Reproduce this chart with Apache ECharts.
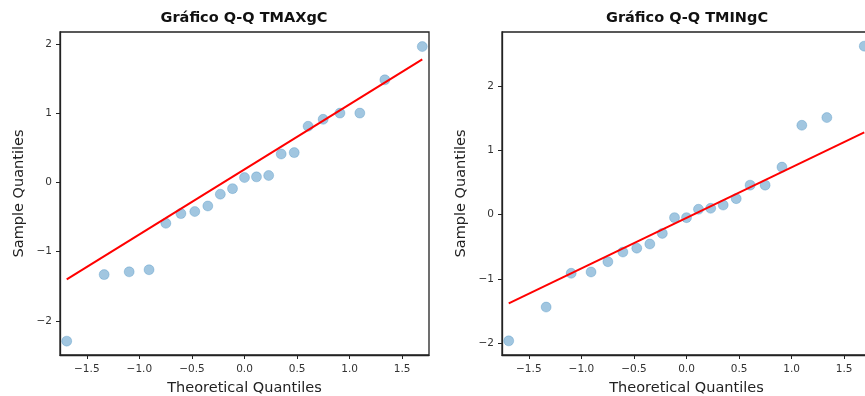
<!DOCTYPE html>
<html>
<head>
<meta charset="utf-8">
<script src="https://cdn.jsdelivr.net/npm/echarts@6/dist/echarts.min.js"></script>
<style>
  html, body { margin: 0; padding: 0; background: #fff; }
  #main { width: 865px; height: 396px; }
</style>
</head>
<body>
<div id="main"></div>
<script>
// theoretical quantiles (shared by both plots)
var theo = [-1.691, -1.335, -1.097, -0.908, -0.748, -0.605, -0.473, -0.349, -0.230, -0.114, 0,
            0.114, 0.230, 0.349, 0.473, 0.605, 0.748, 0.908, 1.097, 1.335, 1.691];
// sample quantiles
var tmax = [-2.29, -1.33, -1.29, -1.26, -0.59, -0.45, -0.42, -0.34, -0.17, -0.09, 0.07,
            0.08, 0.10, 0.41, 0.43, 0.81, 0.91, 1.00, 1.00, 1.48, 1.96];
var tmin = [-1.96, -1.435, -0.91, -0.89, -0.73, -0.58, -0.52, -0.455, -0.29, -0.045, -0.045,
            0.085, 0.10, 0.15, 0.25, 0.46, 0.46, 0.74, 1.39, 1.51, 2.62];
// reference lines (end points)
var tmaxLine = [[-1.691, -1.40], [1.691, 1.776]];
var tminLine = [[-1.691, -1.377], [1.691, 1.28]];
var titles = ['Gráfico Q-Q TMAXgC', 'Gráfico Q-Q TMINgC'];
var xTicks = [-1.5, -1.0, -0.5, 0, 0.5, 1.0, 1.5];
var yTicks = [-2, -1, 0, 1, 2];

var FONT = 'DejaVu Sans';
var INK = '#222';

function pts(ys) {
    return theo.map(function (x, i) { return [x, ys[i]]; });
}
function minus(s) { return s.replace('-', '\u2212'); }

function xAxisCfg(idx) {
    return {
        type: 'value', gridIndex: idx, min: -1.755, max: 1.755,
        name: 'Theoretical Quantiles', nameLocation: 'middle', nameGap: 26,
        nameTextStyle: { fontFamily: FONT, fontSize: 14.5, color: INK },
        splitLine: { show: false },
        axisLine: { show: true, onZero: false, lineStyle: { color: INK, width: 1.3 } },
        axisTick: { show: true, inside: false, length: 4, lineStyle: { color: INK }, customValues: xTicks },
        axisLabel: {
            customValues: xTicks, margin: 9, color: '#333', fontFamily: FONT, fontSize: 10.5,
            formatter: function (v) { return minus(v.toFixed(1)); }
        }
    };
}
function yAxisCfg(idx, mn, mx, gap) {
    return {
        type: 'value', gridIndex: idx, min: mn, max: mx,
        name: 'Sample Quantiles', nameLocation: 'middle', nameGap: gap,
        nameTextStyle: { fontFamily: FONT, fontSize: 14.5, color: INK },
        splitLine: { show: false },
        axisLine: { show: true, onZero: false, lineStyle: { color: INK, width: 1.3 } },
        axisTick: { show: true, inside: false, length: 4, lineStyle: { color: INK }, customValues: yTicks },
        axisLabel: {
            customValues: yTicks, margin: 8, color: '#333', fontFamily: FONT, fontSize: 10.5,
            formatter: function (v) { return minus(String(v)); }
        }
    };
}
function scatter(idx, ys) {
    return {
        type: 'scatter', xAxisIndex: idx, yAxisIndex: idx, data: pts(ys),
        symbolSize: 10,
        itemStyle: { color: 'rgba(31,119,180,0.42)', borderColor: 'rgba(31,119,180,0.25)', borderWidth: 1, opacity: 1 }
    };
}
function refLine(idx, d) {
    return {
        type: 'line', xAxisIndex: idx, yAxisIndex: idx, data: d, showSymbol: false,
        lineStyle: { color: '#ff0000', width: 2 }, z: 3, silent: true
    };
}

var chart = echarts.init(document.getElementById('main'));
var option = {
    animation: false,
    backgroundColor: '#fff',
    graphic: [
        { type: 'text', x: 244, y: 18, style: { text: titles[0], fontFamily: FONT, fontSize: 14.5, fontWeight: 'bold', fill: '#111', textAlign: 'center', textVerticalAlign: 'middle' } },
        { type: 'text', x: 687, y: 18, style: { text: titles[1], fontFamily: FONT, fontSize: 14.5, fontWeight: 'bold', fill: '#111', textAlign: 'center', textVerticalAlign: 'middle' } }
    ],
    grid: [
        { left: 60, top: 32, width: 369, height: 323, outerBoundsMode: 'none', containLabel: false,
          show: true, borderColor: INK, borderWidth: 1.3, backgroundColor: '#fff' },
        { left: 502, top: 32, width: 369, height: 323, outerBoundsMode: 'none', containLabel: false,
          show: true, borderColor: INK, borderWidth: 1.3, backgroundColor: '#fff' }
    ],
    xAxis: [xAxisCfg(0), xAxisCfg(1)],
    yAxis: [yAxisCfg(0, -2.49, 2.17, 33), yAxisCfg(1, -2.18, 2.84, 33)],
    series: [
        scatter(0, tmax), refLine(0, tmaxLine),
        scatter(1, tmin), refLine(1, tminLine)
    ]
};
chart.setOption(option);
</script>
</body>
</html>
